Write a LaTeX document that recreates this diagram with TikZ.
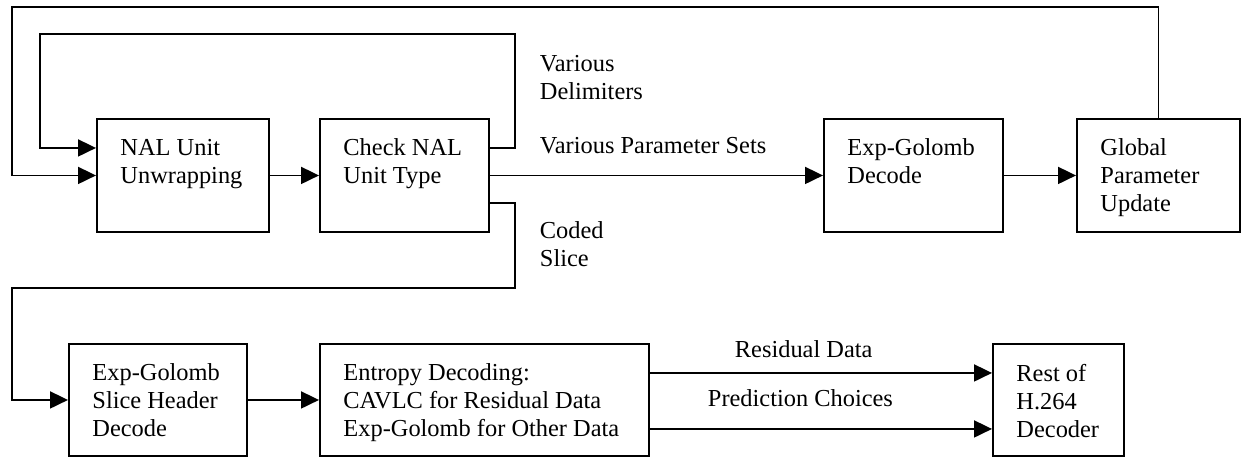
\documentclass[tikz,border=0pt]{standalone}
\usepackage{fontspec}
\setmainfont{Liberation Serif}
\usetikzlibrary{arrows.meta}
\begin{document}
\begin{tikzpicture}[x=1pt, y=-1pt, line width=1.9pt,
    blk/.style={draw, anchor=north west, minimum height=113pt, inner sep=0pt},
    txt/.style={anchor=north west, inner sep=0pt, align=left, font=\fontsize{24.4}{28}\selectfont},
    arr/.style={-{Triangle[length=18pt,width=17pt]}}]
  \useasboundingbox (0,0) rectangle (1241,456);
  \node[blk, minimum width=172pt] (nal) at (96,118) {};
  \node[blk, minimum width=169pt] (chk) at (319,118) {};
  \node[blk, minimum width=179pt] (egd) at (823,118) {};
  \node[blk, minimum width=163pt] (gpu) at (1076,118) {};
  \node[blk, minimum width=178pt, minimum height=112pt] (esh) at (68,343) {};
  \node[blk, minimum width=329pt, minimum height=112pt] (ent) at (319,343) {};
  \node[blk, minimum width=131pt, minimum height=112pt] (rst) at (992,343) {};
  \node[txt] (nalT) at ([xshift=23.5pt, yshift=-20pt]nal.north west) {NAL Unit\\Unwrapping};
  \node[txt] (chkT) at ([xshift=23.5pt, yshift=-20pt]chk.north west) {Check NAL\\Unit Type};
  \node[txt] (egdT) at ([xshift=23.5pt, yshift=-20pt]egd.north west) {Exp-Golomb\\Decode};
  \node[txt] (gpuT) at ([xshift=23.5pt, yshift=-20pt]gpu.north west) {Global\\Parameter\\Update};
  \node[txt] (eshT) at ([xshift=23.5pt, yshift=-20pt]esh.north west) {Exp-Golomb\\Slice Header\\Decode};
  \node[txt] (entT) at ([xshift=23.5pt, yshift=-20pt]ent.north west) {Entropy Decoding:\\CAVLC for Residual Data\\Exp-Golomb for Other Data};
  \node[txt] (rstT) at ([xshift=23.5pt, yshift=-20pt]rst.north west) {Rest of\\H.264\\Decoder};
  \node[txt] (delim) at (539,54) {Various\\Delimiters};
  \node[txt] (psets) at (539,136) {Various Parameter Sets};
  \node[txt] (coded) at (539,221) {Coded\\Slice};
  \node[txt] (resid) at (734,340) {Residual Data};
  \node[txt] (pred) at (707,389) {Prediction Choices};
  \coordinate (outerTL) at (12,7);
  \coordinate (innerTL) at (40,34);
  \coordinate (innerTR) at (515,34);
  \coordinate (sliceR) at (515,288);
  \coordinate (sliceL) at (12,288);
  \draw[arr] (gpu.north) |- (outerTL) |- (nal.west);
  \draw[arr] ([yshift=27.5pt]chk.east) -| (innerTR) -- (innerTL) |- ([yshift=27.5pt]nal.west);
  \draw[arr] (nal) -- (chk);
  \draw[arr] (chk) -- (egd);
  \draw[arr] (egd) -- (gpu);
  \draw[arr] ([yshift=-27.5pt]chk.east) -| (sliceR) -- (sliceL) |- (esh.west);
  \draw[arr] (esh) -- (ent);
  \draw[arr] ([yshift=27pt]ent.east) -- ([yshift=27pt]rst.west);
  \draw[arr] ([yshift=-29pt]ent.east) -- ([yshift=-29pt]rst.west);
\end{tikzpicture}
\end{document}
